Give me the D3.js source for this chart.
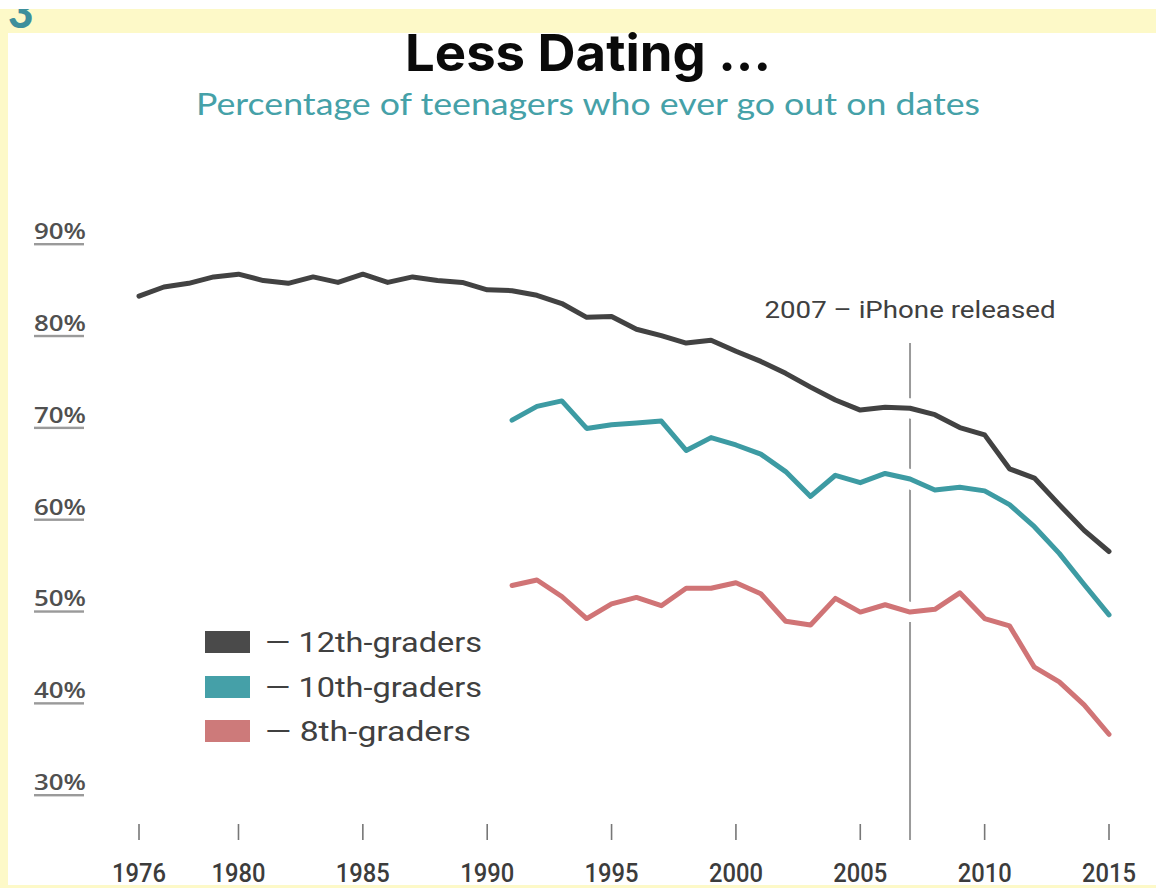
<!DOCTYPE html>
<html><head><meta charset="utf-8">
<script src="https://cdn.jsdelivr.net/npm/d3@7"></script>
<style>html,body{margin:0;padding:0;background:#fff;}svg{display:block;}</style>
</head><body>
<svg id="c" width="1156" height="888"></svg>
<script>
const years12 = [1976,1977,1978,1979,1980,1981,1982,1983,1984,1985,1986,1987,1988,1989,1990,1991,1992,1993,1994,1995,1996,1997,1998,1999,2000,2001,2002,2003,2004,2005,2006,2007,2008,2009,2010,2011,2012,2013,2014,2015];
const twelfth = [82.9,83.9,84.3,85.0,85.3,84.6,84.3,85.0,84.4,85.3,84.4,85.0,84.6,84.4,83.6,83.5,83.0,82.1,80.6,80.7,79.3,78.6,77.8,78.1,76.9,75.8,74.5,73.0,71.6,70.5,70.8,70.7,70.0,68.6,67.8,64.1,63.1,60.2,57.4,55.1];
const years10 = [1991,1992,1993,1994,1995,1996,1997,1998,1999,2000,2001,2002,2003,2004,2005,2006,2007,2008,2009,2010,2011,2012,2013,2014,2015];
const tenth = [69.4,70.9,71.5,68.5,68.9,69.1,69.3,66.1,67.5,66.7,65.7,63.8,61.1,63.4,62.6,63.6,63.0,61.8,62.1,61.7,60.2,57.8,54.9,51.5,48.2];
const eighth = [51.4,52.0,50.2,47.8,49.4,50.1,49.2,51.1,51.1,51.7,50.5,47.5,47.1,50.0,48.5,49.3,48.5,48.8,50.6,47.8,47.0,42.5,40.9,38.4,35.2];
const xTicks = [1976,1980,1985,1990,1995,2000,2005,2010,2015];
const yTicks = [30,40,50,60,70,80,90];
const seriesNames = ["12th-graders","10th-graders","8th-graders"];
const seriesColors = ["#424242","#3d9ba3","#d07476"];
const legendColors = ["#4a4a4a","#45a0a8","#cd7a7a"];
const eventYear = 2007;
const eventLabel = "2007 \u2013 iPhone released";

const svg = d3.select("#c");
const W = 1156, H = 888;
const x = d3.scaleLinear().domain([1976, 2015]).range([139, 1109]);
const y = d3.scaleLinear().domain([30, 90]).range([782, 231]);

// frame
const yellow = "#fdf9c8";
svg.append("rect").attr("x",0).attr("y",0).attr("width",W).attr("height",H).attr("fill",yellow);
svg.append("rect").attr("x",8).attr("y",33).attr("width",W-8).attr("height",852).attr("fill","#fff");
svg.append("text").attr("x",8).attr("y",28).attr("font-family","Lato, sans-serif").attr("font-weight",900)
  .attr("font-size",44).attr("fill","#3d8f9c").text("3");
svg.append("rect").attr("x",0).attr("y",0).attr("width",W).attr("height",9).attr("fill","#fff");

// title
svg.append("text").attr("x",588).attr("y",71).attr("text-anchor","middle")
  .attr("font-family","Inter, sans-serif").attr("font-weight",700).attr("font-size",51)
  .attr("fill","#0a0a0a").attr("textLength",366).attr("lengthAdjust","spacingAndGlyphs").text("Less Dating ...");
svg.append("text").attr("x",588).attr("y",115).attr("text-anchor","middle")
  .attr("font-family","Lato, sans-serif").attr("font-size",30)
  .attr("fill","#45a1a8").attr("textLength",784).attr("lengthAdjust","spacingAndGlyphs")
  .text("Percentage of teenagers who ever go out on dates");

// y labels with underline
const yl = svg.append("g");
yTicks.forEach(v => {
  const g = yl.append("g").attr("transform",`translate(34,${y(v)})`);
  g.append("text").attr("x",0).attr("y",8).attr("font-family","'Open Sans', sans-serif").attr("font-weight",600)
    .attr("font-size",21).attr("fill","#505050").attr("textLength",52).attr("lengthAdjust","spacingAndGlyphs").text(v+"%");
  g.append("rect").attr("x",0).attr("y",12).attr("width",50).attr("height",2.4).attr("fill","#9a9a9a");
});

// x axis ticks and labels
const xa = svg.append("g");
xTicks.forEach(t => {
  xa.append("line").attr("x1",x(t)).attr("x2",x(t)).attr("y1",824).attr("y2",840)
    .attr("stroke","#777").attr("stroke-width",1.6);
  xa.append("text").attr("x",x(t)).attr("y",882).attr("text-anchor","middle")
    .attr("font-family","Roboto, sans-serif").attr("font-weight",500).attr("font-size",25).attr("fill","#3c3c3c")
    .attr("textLength",54).attr("lengthAdjust","spacingAndGlyphs").text(t);
});

// event line
svg.append("line").attr("x1",x(eventYear)).attr("x2",x(eventYear)).attr("y1",343).attr("y2",840)
  .attr("stroke","#9a9a9a").attr("stroke-width",2);
svg.append("text").attr("x",x(eventYear)).attr("y",318).attr("text-anchor","middle")
  .attr("font-family","Roboto, sans-serif").attr("font-size",23).attr("fill","#404040")
  .attr("textLength",291).attr("lengthAdjust","spacingAndGlyphs").text(eventLabel);

// series
const line = d3.line().x(d=>x(d[0])).y(d=>y(d[1]));
const series = [
  d3.zip(years12, twelfth),
  d3.zip(years10, tenth),
  d3.zip(years10, eighth)
];
const sg = svg.append("g");
series.forEach((s,i) => {
  sg.append("path").datum(s).attr("d",line).attr("fill","none").attr("stroke","#fff")
    .attr("stroke-width",20).attr("stroke-linejoin","round");
});
series.forEach((s,i) => {
  sg.append("path").datum(s).attr("d",line).attr("fill","none").attr("stroke",seriesColors[i])
    .attr("stroke-width",5).attr("stroke-linejoin","round").attr("stroke-linecap","round");
});

// legend
const lg = svg.append("g");
const legendY = [642, 687, 731];
seriesNames.forEach((n,i) => {
  lg.append("rect").attr("x",205).attr("y",legendY[i]-11).attr("width",45).attr("height",22).attr("fill",legendColors[i]);
  lg.append("text").attr("x",265).attr("y",legendY[i]+10).attr("font-family","Roboto, sans-serif")
    .attr("font-size",27).attr("fill","#404040").attr("textLength", i===2?206:217).attr("lengthAdjust","spacingAndGlyphs")
    .text("\u2014 " + n);
});

// bottom band
svg.append("rect").attr("x",0).attr("y",885).attr("width",W).attr("height",3).attr("fill",yellow);
</script>
</body></html>
